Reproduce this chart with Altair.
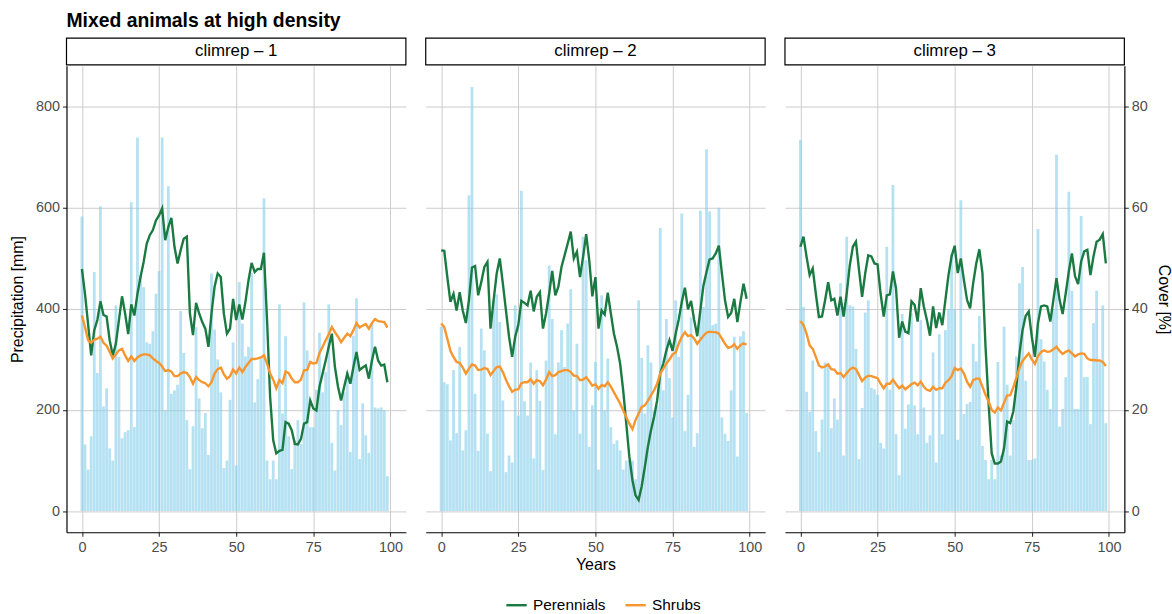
import altair as alt
import pandas as pd

# ---------------- data ----------------
years = list(range(100))
climreps = ["climrep – 1", "climrep – 2", "climrep – 3"]
series_names = ["Perennials", "Shrubs"]
x_ticks = [0, 25, 50, 75, 100]
y_ticks = [0, 200, 400, 600, 800]

precip_1 = [583, 132, 82, 148, 473, 273, 603, 207, 243, 124, 100, 407, 305, 144, 156, 160, 611, 166, 739, 467,
            443, 334, 331, 356, 430, 475, 739, 200, 643, 232, 239, 250, 396, 313, 180, 83, 168, 364, 223, 164,
            194, 111, 470, 359, 300, 235, 85, 100, 220, 334, 90, 453, 371, 306, 325, 471, 215, 261, 302, 619,
            100, 63, 100, 63, 409, 193, 346, 148, 83, 140, 180, 133, 413, 318, 166, 166, 240, 353, 235, 275,
            409, 135, 80, 200, 170, 235, 275, 117, 347, 421, 103, 213, 150, 115, 371, 205, 203, 205, 200, 69]
precip_2 = [365, 255, 251, 140, 279, 154, 325, 120, 160, 625, 839, 232, 119, 361, 318, 153, 79, 417, 429, 374,
            219, 77, 110, 96, 407, 189, 634, 217, 189, 294, 104, 279, 218, 81, 298, 486, 380, 152, 294, 358,
            285, 371, 439, 199, 331, 153, 543, 496, 127, 209, 295, 82, 427, 199, 302, 166, 133, 140, 120, 82,
            100, 100, 100, 63, 417, 303, 193, 328, 294, 199, 209, 560, 239, 380, 263, 185, 417, 305, 589, 158,
            230, 383, 127, 154, 595, 404, 716, 593, 368, 371, 600, 185, 153, 139, 239, 345, 108, 346, 356, 194]
precip_3 = [735, 404, 236, 196, 298, 158, 117, 181, 294, 292, 164, 223, 181, 451, 110, 543, 407, 405, 321, 103,
            204, 393, 417, 244, 241, 230, 135, 124, 523, 240, 645, 152, 71, 390, 163, 211, 391, 209, 152, 378,
            205, 135, 150, 314, 96, 350, 152, 358, 400, 509, 399, 141, 615, 192, 212, 216, 331, 296, 386, 129,
            101, 63, 101, 63, 295, 110, 365, 250, 110, 180, 306, 451, 483, 258, 101, 101, 104, 558, 340, 296,
            240, 202, 400, 705, 167, 202, 265, 632, 436, 202, 202, 584, 265, 265, 172, 372, 436, 295, 407, 174]

perennials_1 = [47.9, 43.0, 37.0, 30.8, 35.8, 37.8, 41.5, 38.8, 38.5, 33.8, 30.8, 33.1, 37.8, 42.5, 39.1, 35.0, 40.9, 38.7, 43.0, 46.3,
                49.3, 52.9, 54.6, 55.6, 57.5, 58.5, 59.9, 53.6, 56.2, 58.0, 52.3, 49.0, 51.6, 53.9, 54.3, 39.1, 34.8, 41.2, 39.1, 37.4,
                36.1, 32.5, 39.1, 44.4, 47.0, 46.3, 39.1, 35.1, 36.1, 42.0, 37.8, 40.9, 37.9, 41.4, 45.7, 49.1, 47.3, 47.9, 47.9, 51.1,
                37.8, 22.6, 14.0, 11.4, 11.9, 12.1, 17.6, 17.3, 16.0, 13.3, 13.2, 14.3, 17.3, 17.6, 21.9, 20.3, 19.9, 24.6, 27.2, 29.8,
                32.5, 35.1, 28.5, 24.6, 21.9, 24.6, 27.2, 25.2, 28.5, 31.5, 27.9, 28.4, 28.8, 26.2, 29.8, 32.5, 29.8, 28.8, 29.0, 25.5]
shrubs_1 = [38.7, 36.4, 33.8, 33.3, 33.9, 34.1, 34.5, 33.3, 32.7, 31.5, 30.2, 31.0, 31.8, 32.1, 30.8, 29.7, 30.6, 29.7, 30.4, 30.8,
            31.0, 31.0, 30.8, 30.2, 29.7, 29.3, 28.6, 27.7, 27.9, 27.6, 26.7, 26.7, 27.2, 27.5, 27.3, 26.5, 25.2, 26.5, 25.9, 25.5,
            25.3, 24.7, 25.5, 27.2, 28.1, 28.4, 27.1, 26.2, 26.7, 28.0, 27.2, 28.4, 27.5, 28.5, 29.3, 30.1, 30.1, 30.2, 30.4, 30.8,
            29.2, 27.2, 26.0, 24.3, 25.9, 25.3, 27.6, 27.3, 26.2, 25.5, 25.5, 26.0, 27.9, 27.9, 29.5, 29.2, 29.3, 31.3, 32.5, 33.8,
            35.0, 36.4, 35.4, 34.5, 33.4, 34.3, 35.1, 34.6, 35.8, 37.2, 36.3, 36.7, 37.0, 36.1, 37.2, 38.0, 37.6, 37.5, 37.4, 36.3]
perennials_2 = [51.6, 51.5, 46.3, 41.4, 43.0, 39.7, 43.3, 39.7, 37.2, 41.7, 48.2, 48.5, 42.7, 45.3, 48.3, 49.3, 36.1, 41.7, 47.0, 50.0,
                45.0, 39.7, 34.5, 30.5, 34.5, 36.8, 41.6, 41.2, 40.7, 43.6, 39.5, 42.4, 43.3, 36.1, 39.1, 43.0, 47.5, 42.7, 44.4, 48.3,
                50.6, 52.9, 55.3, 50.0, 51.3, 46.3, 50.3, 54.8, 49.6, 42.5, 46.3, 36.1, 39.7, 38.9, 43.2, 39.1, 35.1, 32.5, 29.2, 23.9,
                17.3, 10.7, 6.1, 3.1, 2.2, 4.9, 8.7, 12.7, 16.0, 18.6, 21.9, 27.2, 29.2, 31.8, 33.8, 31.7, 35.1, 37.9, 41.4, 44.2,
                39.9, 41.6, 37.8, 34.6, 39.7, 44.6, 47.3, 49.8, 50.0, 51.0, 52.5, 47.0, 41.7, 38.4, 39.2, 42.0, 37.4, 41.4, 45.0, 42.0]
shrubs_2 = [37.1, 36.4, 34.1, 31.7, 30.5, 29.5, 29.3, 28.4, 27.2, 28.2, 29.0, 28.8, 27.9, 28.0, 28.3, 28.1, 26.9, 27.7, 28.5, 28.6,
            27.5, 26.0, 24.7, 23.6, 24.0, 24.1, 25.3, 25.5, 25.5, 26.1, 25.2, 25.9, 25.7, 24.9, 26.0, 27.5, 26.7, 26.9, 27.5, 27.7,
            27.9, 27.9, 27.5, 26.8, 26.7, 25.9, 26.0, 26.5, 25.7, 24.8, 25.1, 24.2, 24.9, 24.7, 25.5, 24.6, 23.5, 22.4, 21.3, 19.9,
            18.6, 17.3, 16.2, 18.0, 19.3, 20.6, 20.9, 21.8, 22.9, 23.9, 25.2, 27.2, 28.2, 29.2, 30.0, 31.0, 31.4, 33.1, 34.5, 35.4,
            34.6, 34.8, 34.1, 33.1, 33.9, 34.7, 35.3, 35.5, 35.4, 35.4, 35.1, 34.1, 33.1, 32.3, 32.5, 33.0, 32.1, 32.8, 33.2, 32.9]
perennials_3 = [52.3, 54.3, 50.3, 46.7, 48.0, 43.0, 38.4, 38.5, 41.7, 45.3, 41.7, 42.0, 38.7, 42.4, 38.5, 43.0, 48.6, 52.3, 53.3, 47.7,
                42.4, 47.0, 50.6, 50.4, 49.0, 48.8, 43.0, 38.5, 42.7, 42.9, 47.4, 44.0, 34.3, 37.5, 35.5, 35.2, 41.5, 40.8, 37.5, 44.1,
                40.5, 37.8, 34.7, 40.5, 36.2, 39.3, 36.8, 41.8, 46.7, 50.4, 52.5, 47.1, 50.0, 45.7, 41.8, 40.1, 45.1, 49.0, 51.8, 47.1,
                32.5, 21.3, 11.4, 9.4, 9.4, 9.8, 12.4, 17.7, 17.4, 19.7, 24.6, 31.2, 35.8, 38.6, 39.5, 34.5, 30.5, 37.2, 40.5, 40.7,
                40.5, 37.5, 41.8, 46.1, 41.8, 39.0, 43.1, 47.4, 51.0, 46.5, 44.9, 49.4, 51.4, 51.7, 46.7, 50.4, 53.3, 53.7, 54.8, 49.0]
shrubs_3 = [37.6, 36.8, 35.1, 32.8, 32.1, 30.5, 28.8, 28.4, 28.6, 29.0, 28.1, 28.0, 27.2, 27.3, 26.5, 27.3, 28.0, 28.4, 28.1, 26.9,
            25.7, 26.4, 26.8, 26.7, 26.5, 26.3, 25.2, 24.3, 25.2, 25.2, 26.0, 25.1, 24.3, 24.8, 24.1, 24.6, 25.1, 25.4, 24.9, 25.6,
            24.6, 24.0, 23.8, 24.6, 24.0, 24.3, 24.3, 25.4, 25.9, 26.7, 28.3, 27.9, 28.2, 27.2, 25.6, 24.6, 25.9, 26.2, 26.2, 24.6,
            23.0, 21.7, 20.0, 19.5, 20.5, 19.9, 21.4, 22.9, 22.9, 24.5, 26.4, 28.3, 29.7, 30.5, 31.2, 30.0, 29.1, 30.6, 31.5, 31.8,
            31.5, 31.6, 32.0, 32.5, 31.7, 31.1, 31.5, 31.8, 31.2, 30.6, 31.0, 31.2, 31.1, 30.2, 29.9, 29.9, 29.8, 29.8, 29.5, 28.7]

precips = [precip_1, precip_2, precip_3]
perennials = [perennials_1, perennials_2, perennials_3]
shrubs = [shrubs_1, shrubs_2, shrubs_3]
for arr in precips + perennials + shrubs:
    assert len(arr) == 100, len(arr)

# ---------------- style ----------------
FONT = "Liberation Sans"
W, H = 342, 470
X_DOMAIN = [-5, 105]
Y_DOMAIN = [-42, 881]
BAR_COLOR = "#87CEEB"
GREEN = "#1a7a42"
ORANGE = "#f7962e"
GRID = "#cccccc"
LABEL = "#4d4d4d"


def panel(k):
    xs = alt.Scale(domain=X_DOMAIN, nice=False, zero=False)
    ys = alt.Scale(domain=Y_DOMAIN, nice=False, zero=False)

    bar_df = pd.DataFrame({"Year": years, "Precipitation": precips[k]})
    line_df = pd.DataFrame({
        "Year": years + years,
        "Cover": perennials[k] + shrubs[k],
        "Type": [series_names[0]] * 100 + [series_names[1]] * 100,
    })
    strip_df = pd.DataFrame({"label": [climreps[k]]})

    x_axis_kw = dict(values=x_ticks, grid=True, gridColor=GRID, gridWidth=1,
                     domain=True, domainColor="black", domainWidth=1.2,
                     ticks=True, tickColor="#333333", tickSize=4, tickWidth=1.1,
                     labelColor=LABEL, labelFontSize=14.5, labelFont=FONT, labelPadding=4,
                     titleFont=FONT, titleFontSize=16, titleFontWeight="normal",
                     titleColor="black", titlePadding=3)
    if k == 1:
        x_axis = alt.Axis(title="Years", **x_axis_kw)
    else:
        x_axis = alt.Axis(title=None, **x_axis_kw)

    if k == 0:
        y_axis = alt.Axis(values=y_ticks, grid=True, gridColor=GRID, gridWidth=1,
                          domain=True, domainColor="black", domainWidth=1.2,
                          ticks=True, tickColor="#333333", tickSize=4, tickWidth=1.1,
                          labelColor=LABEL, labelFontSize=14.5, labelFont=FONT, labelPadding=3,
                          title="Precipitation [mm]", titleFont=FONT, titleFontSize=16,
                          titleFontWeight="normal", titleColor="black", titlePadding=10)
    else:
        y_axis = alt.Axis(values=y_ticks, grid=True, gridColor=GRID, gridWidth=1,
                          domain=False, ticks=False, labels=False, title=None)

    bars = alt.Chart(bar_df).transform_calculate(
        x0="datum.Year - 0.45", x1="datum.Year + 0.45"
    ).mark_rect(color=BAR_COLOR, opacity=0.62).encode(
        x=alt.X("x0:Q", scale=xs, axis=x_axis),
        x2="x1:Q",
        y=alt.Y("Precipitation:Q", scale=ys, axis=y_axis),
        y2=alt.datum(0),
    )

    color = alt.Color(
        "Type:N",
        scale=alt.Scale(domain=series_names, range=[GREEN, ORANGE]),
        legend=alt.Legend(orient="none", legendX=442, legendY=532, direction="horizontal",
                          title=None, symbolType="stroke", symbolSize=420, symbolStrokeWidth=2.4,
                          labelFont=FONT, labelFontSize=15.5, labelColor="black",
                          columnPadding=14, labelOffset=5),
    )

    if k == 2:
        line_y_axis = alt.Axis(orient="right", values=y_ticks, labelExpr="datum.value / 10",
                               grid=False, domain=True, domainColor="black", domainWidth=1.2,
                               ticks=True, tickColor="#333333", tickSize=4, tickWidth=1.1,
                               labelColor=LABEL, labelFontSize=14.5, labelFont=FONT, labelPadding=3,
                               title="Cover [%]", titleFont=FONT, titleFontSize=16,
                               titleFontWeight="normal", titleColor="black", titlePadding=8)
    else:
        line_y_axis = y_axis

    lines = alt.Chart(line_df).transform_calculate(
        mm="datum.Cover * 10"
    ).mark_line(strokeWidth=2.4).encode(
        x=alt.X("Year:Q", scale=xs, axis=x_axis),
        y=alt.Y("mm:Q", scale=ys, axis=line_y_axis),
        color=color,
        order="Year:Q",
    )

    strip_box = alt.Chart(strip_df).mark_rect(
        fill="white", stroke="black", strokeWidth=1.2
    ).encode(x=alt.value(0), x2=alt.value(W), y=alt.value(-28), y2=alt.value(-1))
    strip_text = alt.Chart(strip_df).mark_text(
        font=FONT, fontSize=17, color="black", baseline="middle", align="center"
    ).encode(x=alt.value(W / 2), y=alt.value(-14.5), text="label:N")

    layer = alt.layer(bars, lines, strip_box, strip_text).properties(width=W, height=H)
    if k == 2:
        layer = layer.resolve_axis(y="independent")
    return layer


chart = alt.hconcat(panel(0), panel(1), panel(2), spacing=18).properties(
    title=alt.Title("Mixed animals at high density", anchor="start", frame="group", font=FONT,
                    fontSize=19.5, fontWeight="bold", color="black", offset=6),
    autosize=alt.AutoSizeParams(type="pad"),
    padding={"left": 9, "top": 8, "right": 0, "bottom": 0},
    background="white",
).configure_view(strokeWidth=0)

chart.save("out.html", embed_options={"renderer": "svg", "actions": False})
